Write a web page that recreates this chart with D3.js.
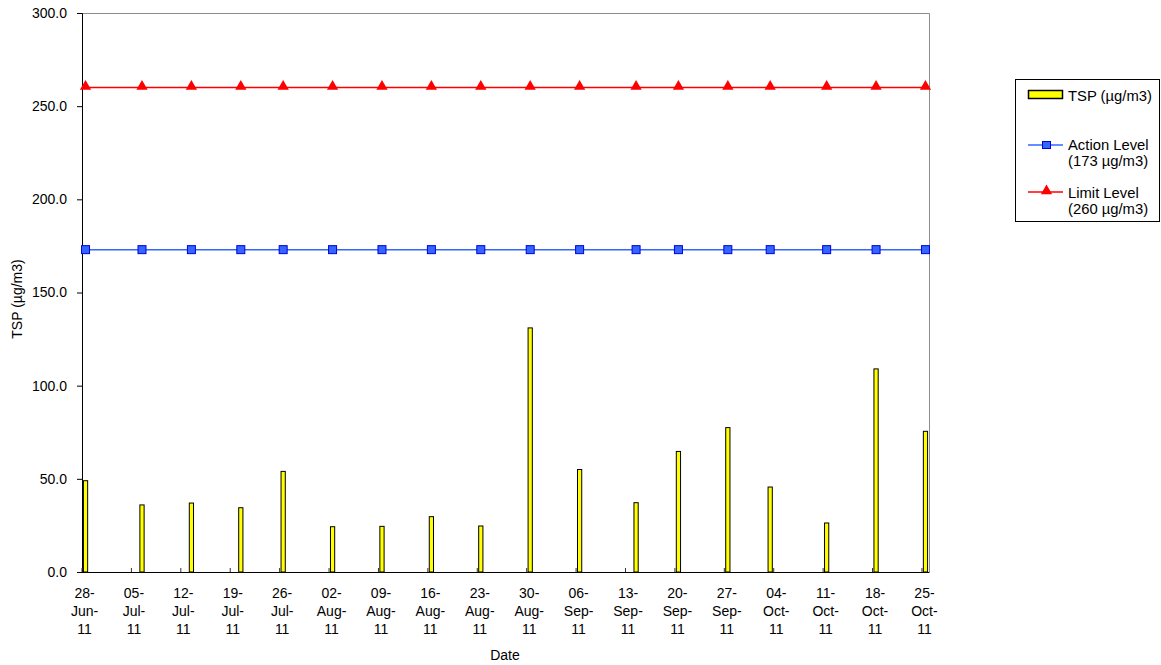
<!DOCTYPE html>
<html>
<head>
<meta charset="utf-8">
<script src="https://cdn.jsdelivr.net/npm/d3@7"></script>
<style>
  body { margin: 0; background: #fff; }
  svg { display: block; font-family: "Liberation Sans", Arial, sans-serif; }
</style>
</head>
<body>
<svg id="chart" width="1161" height="665"></svg>
<script>
// Sampling dates and measured 24-hour TSP
const sampleDates = ["28-Jun-11","06-Jul-11","13-Jul-11","20-Jul-11","26-Jul-11","02-Aug-11",
  "09-Aug-11","16-Aug-11","23-Aug-11","30-Aug-11","06-Sep-11","14-Sep-11","20-Sep-11",
  "27-Sep-11","03-Oct-11","11-Oct-11","18-Oct-11","25-Oct-11"];
const tspValues = [49, 36, 37, 34.5, 54, 24.3, 24.5, 29.7, 24.7, 131, 55, 37.2, 64.7,
  77.5, 45.6, 26.3, 109, 75.5];
const actionLevel = [173,173,173,173,173,173,173,173,173,173,173,173,173,173,173,173,173,173];
const limitLevel = [260,260,260,260,260,260,260,260,260,260,260,260,260,260,260,260,260,260];

// Weekly axis labels
const xTickLabels = ["28-Jun-11","05-Jul-11","12-Jul-11","19-Jul-11","26-Jul-11","02-Aug-11",
  "09-Aug-11","16-Aug-11","23-Aug-11","30-Aug-11","06-Sep-11","13-Sep-11","20-Sep-11",
  "27-Sep-11","04-Oct-11","11-Oct-11","18-Oct-11","25-Oct-11"];
const yTicks = [0, 50, 100, 150, 200, 250, 300];

const parse = d3.utcParse("%d-%b-%y");
const dates = sampleDates.map(parse);
const tickDates = xTickLabels.map(parse);

const plotLeft = 82, plotRight = 929, plotTop = 13, plotBottom = 572;
const axisFont = 14, legendFont = 14.8;
const svg = d3.select("#chart");

const startDay = parse("28-Jun-11");
const endDay = d3.utcDay.offset(parse("25-Oct-11"), 1);
const x = d3.scaleUtc().domain([startDay, endDay]).range([plotLeft, plotRight]);
const y = d3.scaleLinear().domain([0, 300]).range([plotBottom, plotTop]);
const slot = x(d3.utcDay.offset(startDay, 1)) - x(startDay);
const barW = slot * 0.6;
const mid = d => x(d) + slot / 2;

// plot area frame (top/right)
svg.append("path")
  .attr("d", `M${plotLeft},${plotTop + 0.5}H${plotRight + 0.5}V${plotBottom}`)
  .attr("fill", "none").attr("stroke", "#8c8c8c").attr("stroke-width", 1);

// bars
svg.append("g").selectAll("rect").data(tspValues).join("rect")
  .attr("x", (d, i) => mid(dates[i]) - barW / 2)
  .attr("y", d => y(d))
  .attr("width", barW)
  .attr("height", d => plotBottom - y(d))
  .attr("fill", "#ffff00")
  .attr("stroke", "#000").attr("stroke-width", 1);

// Y axis
const yAxis = d3.axisLeft(y).tickValues(yTicks).tickSize(5).tickFormat(d3.format(".1f"));
const gy = svg.append("g").attr("transform", `translate(${plotLeft},0)`).call(yAxis);
gy.select(".domain").attr("stroke", "#000");
gy.selectAll("text").attr("font-size", axisFont).attr("fill", "#000").attr("x", -15)
  .attr("font-family", "Liberation Sans, Arial, sans-serif");

// X axis: inward weekly ticks, labels centred in the day slot
const gx = svg.append("g");
gx.append("line").attr("x1", plotLeft).attr("x2", plotRight + 0.5)
  .attr("y1", plotBottom + 0.5).attr("y2", plotBottom + 0.5)
  .attr("stroke", "#000");
gx.selectAll("line.tk").data(tickDates).join("line").attr("class", "tk")
  .attr("x1", d => x(d)).attr("x2", d => x(d))
  .attr("y1", plotBottom).attr("y2", plotBottom - 4)
  .attr("stroke", "#333");
const lab = gx.selectAll("text").data(xTickLabels).join("text")
  .attr("text-anchor", "middle").attr("font-size", axisFont).attr("fill", "#000");
lab.each(function (d, i) {
  const parts = d.split("-");
  const t = d3.select(this);
  const cx = mid(tickDates[i]) - 1;
  [parts[0] + "-", parts[1] + "-", parts[2]].forEach((p, k) => {
    t.append("tspan").attr("x", cx).attr("y", 598 + k * 18).text(p);
  });
});

// Action & limit lines
const line = d3.line().x((d, i) => mid(dates[i])).y(d => y(d));
svg.append("path").datum(actionLevel).attr("d", line)
  .attr("fill", "none").attr("stroke", "#3366ff").attr("stroke-width", 1.5);
svg.append("g").selectAll("rect").data(actionLevel).join("rect")
  .attr("x", (d, i) => mid(dates[i]) - 4).attr("y", d => y(d) - 4)
  .attr("width", 8).attr("height", 8)
  .attr("fill", "#3366ff").attr("stroke", "#0000dd").attr("stroke-width", 1);

svg.append("path").datum(limitLevel).attr("d", line)
  .attr("fill", "none").attr("stroke", "#ff0000").attr("stroke-width", 1.5);
const tri = d3.symbol().type(d3.symbolTriangle).size(55);
svg.append("g").selectAll("path").data(limitLevel).join("path")
  .attr("d", tri)
  .attr("transform", (d, i) => `translate(${mid(dates[i])},${y(d) - 1})`)
  .attr("fill", "#ff0000");

// axis titles
svg.append("text").attr("x", 505).attr("y", 660).attr("text-anchor", "middle")
  .attr("font-size", axisFont).text("Date");
svg.append("text").attr("transform", "translate(22,299) rotate(-90)")
  .attr("text-anchor", "middle").attr("font-size", axisFont).text("TSP (µg/m3)");

// legend
const lg = svg.append("g");
lg.append("rect").attr("x", 1015.5).attr("y", 79.5).attr("width", 144).attr("height", 142)
  .attr("fill", "#fff").attr("stroke", "#000");
lg.append("rect").attr("x", 1028.5).attr("y", 90.5).attr("width", 34).attr("height", 8)
  .attr("fill", "#ffff00").attr("stroke", "#000").attr("stroke-width", 1.5);
lg.append("text").attr("x", 1068).attr("y", 101).attr("font-size", legendFont).text("TSP (µg/m3)");

lg.append("line").attr("x1", 1028).attr("x2", 1063).attr("y1", 145).attr("y2", 145)
  .attr("stroke", "#3366ff").attr("stroke-width", 1.5);
lg.append("rect").attr("x", 1042.5).attr("y", 141.5).attr("width", 8).attr("height", 7)
  .attr("fill", "#3366ff").attr("stroke", "#0000dd");
lg.append("text").attr("x", 1068).attr("y", 150).attr("font-size", legendFont).text("Action Level");
lg.append("text").attr("x", 1068).attr("y", 166).attr("font-size", legendFont).text("(173 µg/m3)");

lg.append("line").attr("x1", 1028).attr("x2", 1063).attr("y1", 192).attr("y2", 192)
  .attr("stroke", "#ff0000").attr("stroke-width", 1.5);
lg.append("path").attr("d", tri).attr("transform", "translate(1046.5,191)").attr("fill", "#ff0000");
lg.append("text").attr("x", 1068).attr("y", 198).attr("font-size", legendFont).text("Limit Level");
lg.append("text").attr("x", 1068).attr("y", 214).attr("font-size", legendFont).text("(260 µg/m3)");
</script>
</body>
</html>
